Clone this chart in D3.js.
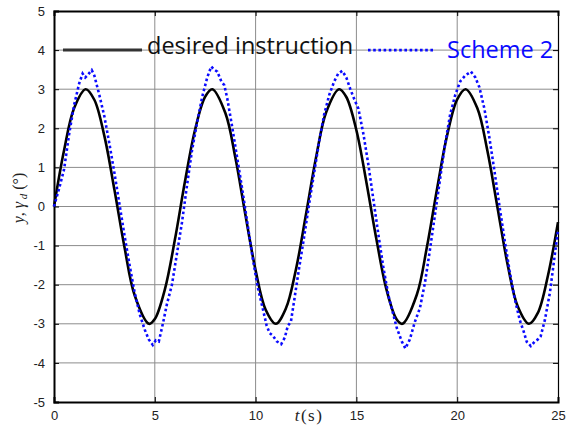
<!DOCTYPE html>
<html>
<head>
<meta charset="utf-8">
<script src="https://cdn.jsdelivr.net/npm/d3@7"></script>
<style>
  html, body { margin: 0; padding: 0; background: #fff; }
  svg { display: block; }
  .tick-label { font-family: 'Liberation Sans', Arial, sans-serif; font-size: 13px; fill: #222; }
  .legend-text { font-family: 'Open Sans', sans-serif; font-size: 23.5px; }
  .axis-title { font-family: 'Liberation Serif', 'Times New Roman', serif; }
</style>
</head>
<body>
<div id="chart"></div>
<script>
;((d3) => {

    'use strict';

    // desired instruction (black)
    const desired_t = [0, 0.5, 1, 1.57, 2, 2.5, 3, 3.5, 4, 4.71, 5, 5.5, 6, 6.5, 7, 7.5, 7.85, 8.5, 9, 9.5,
        10, 10.5, 11, 11.5, 12, 12.5, 13, 13.5, 14.14, 14.5, 15, 15.5, 16, 16.5, 17, 17.28, 18, 18.5, 19, 19.5,
        20, 20.42, 21, 21.5, 22, 22.5, 23, 23.56, 24, 24.5, 25];
    const desired_y = [0, 1.44, 2.52, 3.00, 2.73, 1.80, 0.42, -1.05, -2.27, -3.00, -2.88, -2.12, -0.84, 0.65, 1.97, 2.81, 3.00, 2.39, 1.24, -0.23,
        -1.63, -2.64, -3.00, -2.61, -1.61, -0.20, 1.26, 2.41, 3.00, 2.80, 1.95, 0.61, -0.86, -2.14, -2.89, -3.00, -2.25, -1.03, 0.45, 1.82,
        2.74, 3.00, 2.51, 1.42, -0.03, -1.48, -2.55, -3.00, -2.72, -1.77, -0.40];

    // Scheme 2 (blue dotted)
    const scheme2_t = [0, 0.25, 0.5, 0.75, 1.0, 1.25, 1.42, 1.55, 1.65, 1.87, 2.0, 2.25, 2.5, 2.75, 3.0, 3.25, 3.5, 3.75, 4.0, 4.25,
        4.5, 4.7, 4.9, 5.05, 5.2, 5.4, 5.6, 5.85, 6.1, 6.35, 6.6, 6.85, 7.1, 7.35, 7.6, 7.8, 7.95, 8.1, 8.3, 8.45,
        8.6, 8.85, 9.1, 9.35, 9.6, 9.85, 10.1, 10.35, 10.55, 10.7, 10.85, 11.05, 11.27, 11.45, 11.6, 11.75, 11.9, 12.15, 12.4, 12.65,
        12.9, 13.15, 13.4, 13.65, 13.9, 14.1, 14.3, 14.5, 14.7, 14.85, 15.1, 15.35, 15.6, 15.85, 16.1, 16.35, 16.6, 16.8, 17.0, 17.25,
        17.43, 17.65, 17.9, 18.15, 18.4, 18.65, 18.9, 19.15, 19.4, 19.65, 19.9, 20.15, 20.4, 20.68, 20.9, 21.1, 21.35, 21.6, 21.85, 22.1,
        22.35, 22.6, 22.85, 23.1, 23.3, 23.45, 23.65, 23.85, 24.0, 24.14, 24.35, 24.6, 24.85, 25];
    const scheme2_y = [0, 0.45, 0.95, 1.85, 2.6, 3.15, 3.40, 3.30, 3.35, 3.49, 3.35, 2.85, 2.3, 1.6, 0.85, 0.05, -0.75, -1.5, -2.2, -2.75,
        -3.15, -3.4, -3.54, -3.42, -3.45, -3.0, -2.5, -2.0, -1.2, -0.4, 0.55, 1.45, 2.15, 2.8, 3.3, 3.58, 3.5, 3.45, 3.2, 3.1,
        2.75, 2.0, 1.2, 0.4, -0.45, -1.3, -2.05, -2.6, -3.05, -3.24, -3.3, -3.45, -3.52, -3.35, -3.05, -2.95, -2.45, -1.6, -0.8, 0.05,
        0.85, 1.65, 2.35, 2.85, 3.2, 3.4, 3.47, 3.3, 3.0, 2.8, 2.5, 1.85, 1.05, 0.15, -0.75, -1.6, -2.3, -2.7, -3.1, -3.45,
        -3.63, -3.4, -2.95, -2.6, -1.95, -1.1, -0.2, 0.7, 1.6, 2.35, 2.85, 3.2, 3.35, 3.45, 3.3, 3.05, 2.5, 1.75, 0.9, 0.0,
        -0.85, -1.65, -2.35, -2.9, -3.2, -3.46, -3.57, -3.45, -3.4, -3.32, -2.9, -2.2, -1.2, -0.6];

    const x_ticks = [0, 5, 10, 15, 20, 25];
    const y_ticks = [-5, -4, -3, -2, -1, 0, 1, 2, 3, 4, 5];
    const legend_labels = ['desired instruction', 'Scheme 2'];

    const W = 566, H = 425;
    const plot = { left: 54, right: 558, top: 11, bottom: 402 };

    const svg = d3.select('#chart').append('svg').attr('width', W).attr('height', H);

    const x = d3.scaleLinear().domain([0, 25]).range([plot.left, plot.right]);
    const y = d3.scaleLinear().domain([-5, 5]).range([plot.bottom, plot.top]);

    // grid
    const grid = svg.append('g').attr('class', 'grid');
    grid.selectAll('.gx').data(x_ticks.slice(1, -1)).enter().append('line')
        .attr('x1', d => x(d)).attr('x2', d => x(d))
        .attr('y1', plot.top).attr('y2', plot.bottom)
        .attr('stroke', '#8c8c8c').attr('stroke-width', 1);
    grid.selectAll('.gy').data(y_ticks.slice(1, -1)).enter().append('line')
        .attr('y1', d => y(d)).attr('y2', d => y(d))
        .attr('x1', plot.left).attr('x2', plot.right)
        .attr('stroke', '#8c8c8c').attr('stroke-width', 1);

    // axes with inward ticks, mirrored top/right; plain hyphen for negatives
    const fmt = d => String(d);
    const axis_bottom = d3.axisBottom(x).tickValues(x_ticks).tickSize(-5).tickPadding(9).tickFormat(fmt);
    const axis_top = d3.axisTop(x).tickValues(x_ticks).tickSize(-5).tickFormat('');
    const axis_left = d3.axisLeft(y).tickValues(y_ticks).tickSize(-5).tickPadding(9).tickFormat(fmt);
    const axis_right = d3.axisRight(y).tickValues(y_ticks).tickSize(-5).tickFormat('');

    const styleAxis = (g, w) => {
        g.select('.domain').attr('stroke', '#000').attr('stroke-width', w);
        g.selectAll('.tick line').attr('stroke', '#000').attr('stroke-width', 1);
        g.selectAll('.tick text').attr('class', 'tick-label').attr('fill', '#222');
    };

    svg.append('g').attr('transform', `translate(0,${plot.bottom})`).call(axis_bottom).call(g => styleAxis(g, 2));
    svg.append('g').attr('transform', `translate(0,${plot.top})`).call(axis_top).call(g => styleAxis(g, 2));
    svg.append('g').attr('transform', `translate(${plot.left},0)`).call(axis_left).call(g => styleAxis(g, 2));
    svg.append('g').attr('transform', `translate(${plot.right},0)`).call(axis_right).call(g => styleAxis(g, 1.2));

    // lines
    const line = d3.line().x(d => x(d[0])).y(d => y(d[1])).curve(d3.curveCatmullRom);

    svg.append('path')
        .datum(d3.zip(desired_t, desired_y))
        .attr('d', line)
        .attr('fill', 'none').attr('stroke', '#000').attr('stroke-width', 2.6);

    svg.append('path')
        .datum(d3.zip(scheme2_t, scheme2_y))
        .attr('d', line.curve(d3.curveLinear))
        .attr('fill', 'none').attr('stroke', '#0a0aff').attr('stroke-width', 2.6)
        .attr('stroke-dasharray', '2.6 2.6');

    // legend (no box)
    const ly = y(4);
    svg.append('line').attr('x1', 63).attr('x2', 142).attr('y1', ly).attr('y2', ly)
        .attr('stroke', '#333').attr('stroke-width', 3);
    svg.append('text').attr('class', 'legend-text').attr('x', 147).attr('y', ly + 4)
        .attr('fill', '#111').text(legend_labels[0]);
    svg.append('line').attr('x1', 368).attr('x2', 434).attr('y1', ly).attr('y2', ly)
        .attr('stroke', '#0a0aff').attr('stroke-width', 2.6).attr('stroke-dasharray', '2.6 2.6');
    svg.append('text').attr('class', 'legend-text').attr('x', 447).attr('y', ly + 8)
        .attr('fill', '#0a0aff').text(legend_labels[1]);

    // axis titles
    const yt = svg.append('text').attr('class', 'axis-title')
        .attr('transform', 'translate(24,198) rotate(-90)')
        .attr('text-anchor', 'middle').attr('font-size', 16).attr('fill', '#222');
    yt.append('tspan').attr('font-style', 'italic').text('y');
    yt.append('tspan').text(', ');
    yt.append('tspan').attr('font-style', 'italic').text('γ');
    yt.append('tspan').attr('font-style', 'italic').attr('font-size', 11).attr('dy', 3).text(' d');
    yt.append('tspan').attr('dy', -3).text(' (°)');

    const xt = svg.append('text').attr('class', 'axis-title')
        .attr('x', 309).attr('y', 421).attr('text-anchor', 'middle')
        .attr('font-size', 17).attr('fill', '#222').attr('letter-spacing', 1.5);
    xt.append('tspan').attr('font-style', 'italic').text('t');
    xt.append('tspan').text('(s)');

})(window.d3);
</script>
</body>
</html>
